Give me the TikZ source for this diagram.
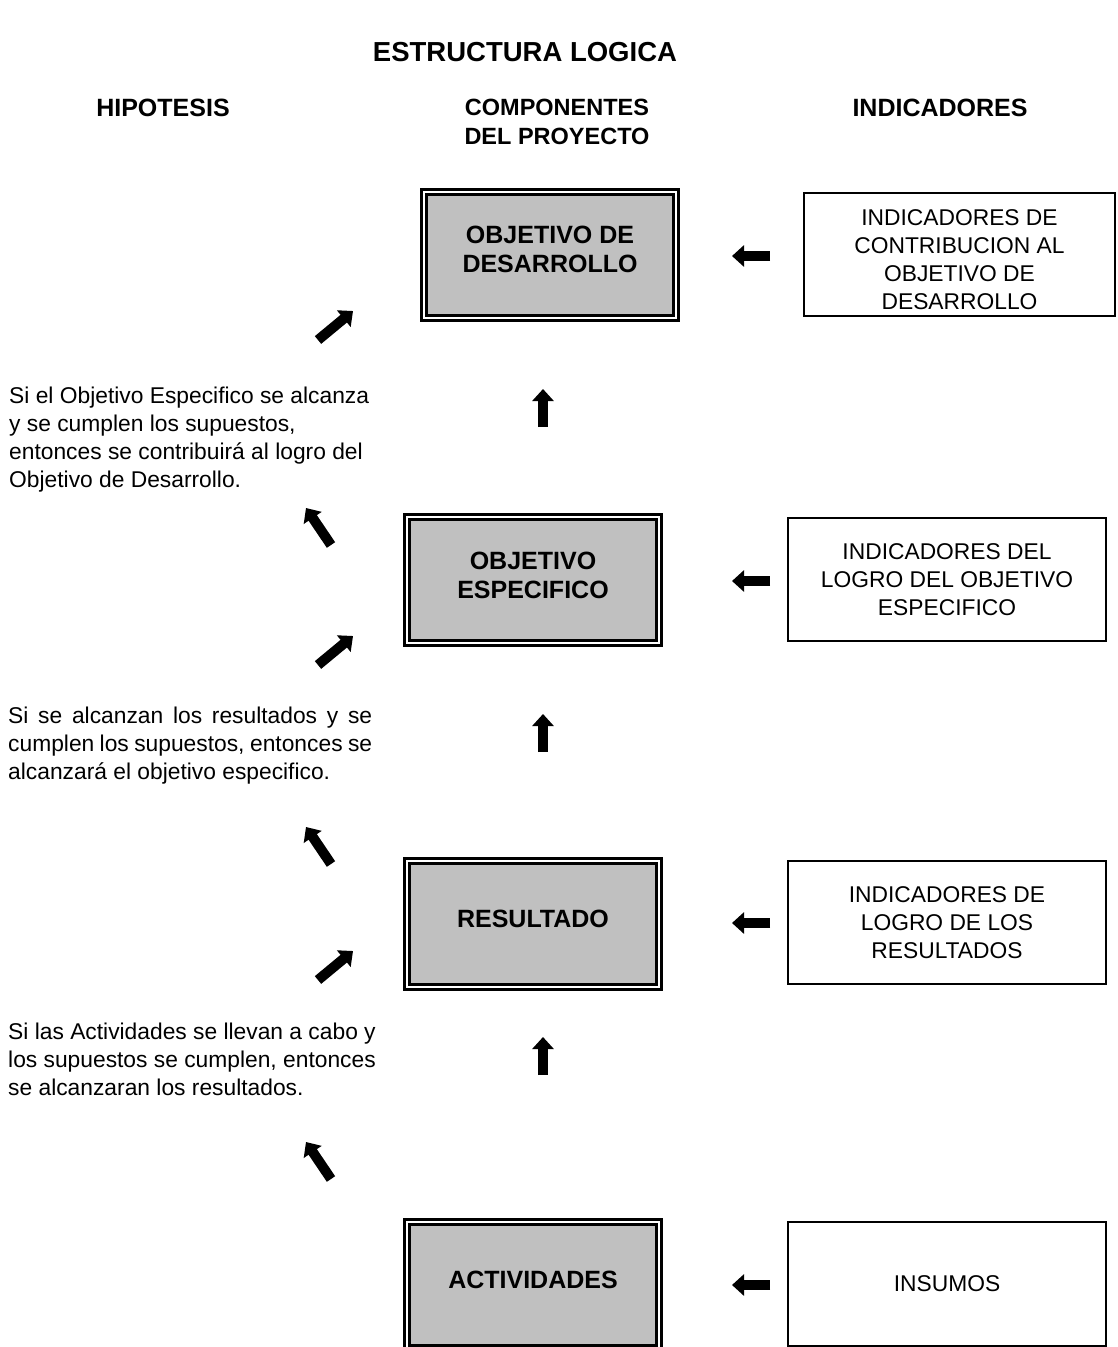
\documentclass[tikz,border=0pt]{standalone}
\usepackage{fontspec}
\setmainfont{Liberation Sans}
\usetikzlibrary{arrows.meta}
\definecolor{boxgrey}{HTML}{C0C0C0}
\begin{document}
\begin{tikzpicture}[x=1pt,y=-1pt,
  comp/.style={draw=black, line width=3pt, double=white, double distance=2pt,
    fill=boxgrey, minimum width=252pt, minimum height=126pt, inner sep=0pt,
    font=\bfseries\fontsize{25}{28.7}\selectfont, align=center,
    execute at end node={\rule[-10pt]{0pt}{10pt}}},
  ind/.style={draw=black, line width=1.6pt, minimum height=123pt, inner sep=0pt,
    font=\fontsize{22.8}{28}\selectfont, align=center},
  head/.style={font=\bfseries\fontsize{25}{29}\selectfont, align=center, inner sep=0pt},
  hyp/.style={font=\fontsize{22.8}{28}\selectfont, inner sep=0pt, anchor=west},
  fat/.style={line width=10pt, -{Triangle[width=21pt,length=12pt]}}
]
\useasboundingbox (0,0) rectangle (1117,1347);
\clip (0,0) rectangle (1117,1347);

% titles
\node[head, font=\bfseries\fontsize{27.5}{32}\selectfont] (title) at (525,52) {ESTRUCTURA LOGICA};
\node[head] (hhyp) at (163,108) {HIPOTESIS};
\node[head, font=\bfseries\fontsize{23.5}{29}\selectfont] (hcomp) at (557,122) {COMPONENTES\\DEL PROYECTO};
\node[head] (hind) at (940,108) {INDICADORES};

% project components
\node[comp] (od) at (550,254.5) {OBJETIVO DE\\DESARROLLO};
\node[comp] (oe) at (533,580) {OBJETIVO\\ESPECIFICO};
\node[comp] (res) at (533,924) {RESULTADO};
\node[comp] (act) at (533,1285) {ACTIVIDADES};

% indicators
\node[ind, minimum width=311pt] (iod) at (959.5,254.5)
  {\rule{0pt}{26pt}INDICADORES DE\\CONTRIBUCION AL\\OBJETIVO DE\\DESARROLLO};
\node[ind, minimum width=318pt] (ioe) at (947,579.5)
  {INDICADORES DEL\\LOGRO DEL OBJETIVO\\ESPECIFICO};
\node[ind, minimum width=318pt] (ires) at (947,922.5)
  {INDICADORES DE\\LOGRO DE LOS\\RESULTADOS};
\node[ind, minimum width=318pt, minimum height=124pt] (iact) at (947,1284)
  {INSUMOS};

% hypotheses
\node[hyp, align=left] (h1) at (9,440)
  {Si el Objetivo Especifico se alcanza\\y se cumplen los supuestos,\\entonces se contribuirá al logro del\\Objetivo de Desarrollo.};
\node[hyp, text width=364pt, align=justify] (h2) at (8,746)
  {Si se alcanzan los resultados y se\linebreak cumplen los supuestos, entonces se\linebreak alcanzará el objetivo especifico.};
\node[hyp, align=left] (h3) at (8,1059)
  {Si las Actividades se llevan a cabo y\\los supuestos se cumplen, entonces\\se alcanzaran los resultados.};

% arrow ends
\foreach \n/\y in {a/256, b/581, c/923, d/1285} {
  \coordinate (l\n s) at (770,\y);
  \coordinate (l\n e) at (732,\y);
}
\coordinate (u1s) at (543,427);  \coordinate (u1e) at (543,389);
\coordinate (u2s) at (543,752);  \coordinate (u2e) at (543,714);
\coordinate (u3s) at (543,1075); \coordinate (u3e) at (543,1037);
\coordinate (ne1s) at (318,340); \coordinate (ne1e) at (353,311);
\coordinate (ne2s) at (318,665); \coordinate (ne2e) at (353,636);
\coordinate (ne3s) at (318,980); \coordinate (ne3e) at (353,951);
\coordinate (nw1s) at (331,545); \coordinate (nw1e) at (306,508);
\coordinate (nw2s) at (331,864); \coordinate (nw2e) at (306,827);
\coordinate (nw3s) at (331,1179); \coordinate (nw3e) at (306,1142);

% block arrows
\foreach \n in {a,b,c,d} { \draw[fat] (l\n s) -- (l\n e); }
\foreach \n in {u1,u2,u3,ne1,ne2,ne3,nw1,nw2,nw3} { \draw[fat] (\n s) -- (\n e); }
\end{tikzpicture}
\end{document}
